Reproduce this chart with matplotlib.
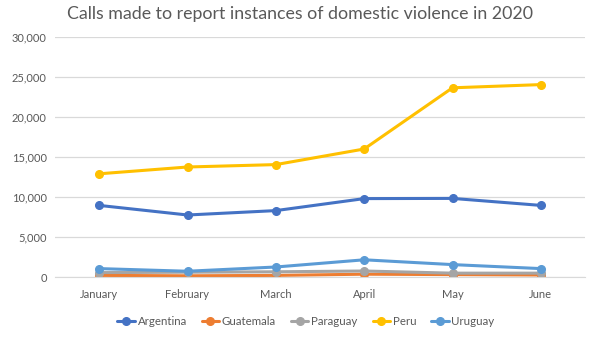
import matplotlib.pyplot as plt
from matplotlib.ticker import FuncFormatter

# Monthly calls per country, 2020
months = ["January", "February", "March", "April", "May", "June"]
argentina = [8950, 7750, 8300, 9800, 9825, 8950]
guatemala = [200, 150, 200, 350, 300, 250]
paraguay = [550, 600, 650, 750, 480, 480]
peru = [12900, 13750, 14050, 16000, 23650, 24050]
uruguay = [1050, 720, 1250, 2150, 1550, 1050]

series = [
    ("Argentina", argentina, "#4472C4"),
    ("Guatemala", guatemala, "#ED7D31"),
    ("Paraguay", paraguay, "#A5A5A5"),
    ("Peru", peru, "#FFC000"),
    ("Uruguay", uruguay, "#5B9BD5"),
]

plt.rcParams['font.family'] = ['Lato', 'DejaVu Sans']
text_color = "#595959"

fig = plt.figure(figsize=(6, 3.42), dpi=100)
ax = fig.add_axes([55 / 600, 65 / 342, 530 / 600, 240 / 342])

x = range(len(months))
for name, vals, color in series:
    ax.plot(x, vals, color=color, lw=2.2, marker='o', ms=5.5,
            label=name, solid_capstyle='round')

ax.set_xlim(-0.5, len(months) - 0.5)
ax.set_ylim(0, 30000)
ax.set_yticks(range(0, 30001, 5000))
ax.yaxis.set_major_formatter(FuncFormatter(lambda v, p: f"{int(v):,}"))
ax.set_xticks(list(x))
ax.set_xticklabels(months)

ax.grid(axis='y', color="#D9D9D9", lw=0.9)
ax.set_axisbelow(True)
for side in ['top', 'right', 'left']:
    ax.spines[side].set_visible(False)
ax.spines['bottom'].set_color("#D9D9D9")
ax.tick_params(length=0, labelsize=8, colors=text_color)
ax.tick_params(axis='x', pad=9)
ax.tick_params(axis='y', pad=6)

fig.text(0.5, 0.982, "Calls made to report instances of domestic violence in 2020",
         ha='center', va='top', fontsize=12.8, color=text_color)

fig.legend(loc='center', bbox_to_anchor=(0.51, 0.06), ncol=5, frameon=False,
           fontsize=8.3, labelcolor=text_color, handlelength=1.5,
           handletextpad=0.25, columnspacing=1.3)

fig.savefig("out.png", dpi=100, facecolor='white')
